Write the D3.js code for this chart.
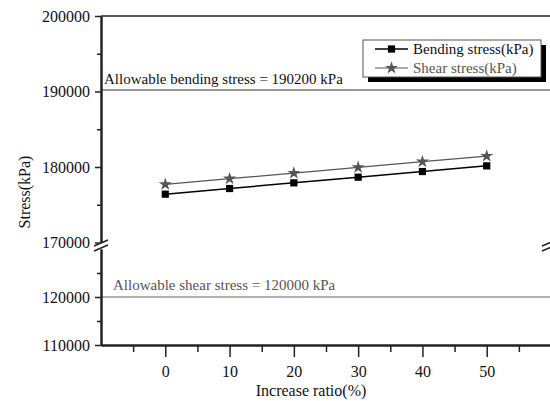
<!DOCTYPE html>
<html>
<head>
<meta charset="utf-8">
<script src="https://cdn.jsdelivr.net/npm/d3@7"></script>
<style>
  body { margin: 0; background: #fff; }
  svg { display: block; font-family: "Liberation Serif", "Times New Roman", serif; }
</style>
</head>
<body>
<svg id="chart" width="550" height="401"></svg>
<script>
// chart data
var ratios = [0, 10, 20, 30, 40, 50];
var bendingStress = [176400, 177150, 177900, 178650, 179400, 180150];
var shearStress = [177700, 178450, 179200, 179950, 180700, 181450];
var allowBending = 190200;
var allowShear = 120000;
var xTicks = [0, 10, 20, 30, 40, 50];
var xMinor = [-5, 5, 15, 25, 35, 45, 55];
var yUpperTicks = [170000, 180000, 190000, 200000];
var yUpperMinor = [175000, 185000, 195000];
var yLowerTicks = [110000, 120000];
var yLowerMinor = [115000, 125000];
var seriesNames = ["Bending stress(kPa)", "Shear stress(kPa)"];

var svg = d3.select("#chart");
var plotLeft = 101, plotRight = 551, plotBottom = 345, plotTop = 16;

var x = d3.scaleLinear().domain([-10, 60]).range([plotLeft, plotRight]);
// broken y axis: two pieces
var yUp = d3.scaleLinear().domain([170000, 200000]).range([242.5, plotTop]);
var yLow = d3.scaleLinear().domain([110000, 130000]).range([plotBottom, 249]);

var fmt = d3.format("d");

// reference lines
svg.append("line")
  .attr("x1", plotLeft).attr("x2", plotRight)
  .attr("y1", yUp(allowBending)).attr("y2", yUp(allowBending))
  .attr("stroke", "#333").attr("stroke-width", 1.2);
svg.append("text")
  .attr("x", 104).attr("y", yUp(allowBending) - 6)
  .attr("font-size", 15).attr("fill", "#111")
  .text("Allowable bending stress = " + allowBending + " kPa");

svg.append("line")
  .attr("x1", plotLeft).attr("x2", plotRight)
  .attr("y1", yLow(allowShear)).attr("y2", yLow(allowShear))
  .attr("stroke", "#666").attr("stroke-width", 1.2);
svg.append("text")
  .attr("x", 113).attr("y", yLow(allowShear) - 7)
  .attr("font-size", 15).attr("fill", "#555")
  .text("Allowable shear stress = " + allowShear + " kPa");

// top frame
svg.append("line")
  .attr("x1", plotLeft).attr("x2", plotRight).attr("y1", plotTop).attr("y2", plotTop)
  .attr("stroke", "#222").attr("stroke-width", 1.5);

// y axes
function styleAxis(g) {
  g.selectAll("path").attr("stroke", "#222").attr("stroke-width", 2);
  g.selectAll("line").attr("stroke", "#222").attr("stroke-width", 1.5);
  g.selectAll("text").attr("font-size", 16).attr("fill", "#111")
    .style("font-family", "Liberation Serif, serif");
}

svg.append("g").attr("transform", "translate(" + plotLeft + ",0)")
  .call(d3.axisLeft(yUp).tickValues(yUpperTicks).tickFormat(fmt).tickSize(6).tickSizeOuter(0).tickPadding(5))
  .call(styleAxis);
svg.append("g").attr("transform", "translate(" + plotLeft + ",0)")
  .call(d3.axisLeft(yUp).tickValues(yUpperMinor).tickFormat("").tickSize(4).tickSizeOuter(0))
  .call(styleAxis);
svg.append("g").attr("transform", "translate(" + plotLeft + ",0)")
  .call(d3.axisLeft(yLow).tickValues(yLowerTicks).tickFormat(fmt).tickSize(6).tickSizeOuter(0).tickPadding(5))
  .call(styleAxis);
svg.append("g").attr("transform", "translate(" + plotLeft + ",0)")
  .call(d3.axisLeft(yLow).tickValues(yLowerMinor).tickFormat("").tickSize(4).tickSizeOuter(0))
  .call(styleAxis);

// x axis
svg.append("g").attr("transform", "translate(0," + plotBottom + ")")
  .call(d3.axisBottom(x).tickValues(xTicks).tickFormat(fmt).tickSize(12).tickSizeOuter(0).tickPadding(9))
  .call(styleAxis);
svg.append("g").attr("transform", "translate(0," + plotBottom + ")")
  .call(d3.axisBottom(x).tickValues(xMinor).tickFormat("").tickSize(7).tickSizeOuter(0))
  .call(styleAxis);

// axis break marks (left and right)
[plotLeft, 549].forEach(function(bx) {
  var by = 245.5;
  svg.append("rect").attr("x", bx - 3).attr("y", by - 2.5).attr("width", 6).attr("height", 5).attr("fill", "#fff");
  [-2.5, 2.5].forEach(function(o) {
    svg.append("line")
      .attr("x1", bx - 7).attr("y1", by + o + 3)
      .attr("x2", bx + 7).attr("y2", by + o - 3)
      .attr("stroke", "#222").attr("stroke-width", 1.5);
  });
});

// axis titles
svg.append("text")
  .attr("x", 311).attr("y", 396)
  .attr("text-anchor", "middle").attr("font-size", 16).attr("fill", "#111")
  .text("Increase ratio(%)");
svg.append("text")
  .attr("transform", "translate(30,192) rotate(-90)")
  .attr("text-anchor", "middle").attr("font-size", 16).attr("fill", "#111")
  .text("Stress(kPa)");

// series
var line = d3.line().x(function(d) { return x(d[0]); }).y(function(d) { return yUp(d[1]); });
var bendPts = ratios.map(function(r, i) { return [r, bendingStress[i]]; });
var shearPts = ratios.map(function(r, i) { return [r, shearStress[i]]; });

var square = d3.symbol().type(d3.symbolSquare).size(52);
var star = d3.symbol().type(d3.symbolStar).size(52);

svg.append("path").datum(shearPts).attr("d", line)
  .attr("fill", "none").attr("stroke", "#555").attr("stroke-width", 1.2);
svg.selectAll(".star").data(shearPts).enter().append("path")
  .attr("class", "star")
  .attr("transform", function(d) { return "translate(" + x(d[0]) + "," + yUp(d[1]) + ")"; })
  .attr("d", star).attr("fill", "#555");

svg.append("path").datum(bendPts).attr("d", line)
  .attr("fill", "none").attr("stroke", "#000").attr("stroke-width", 1.5);
svg.selectAll(".sq").data(bendPts).enter().append("path")
  .attr("class", "sq")
  .attr("transform", function(d) { return "translate(" + x(d[0]) + "," + yUp(d[1]) + ")"; })
  .attr("d", square).attr("fill", "#000");

// legend with drop shadow
var lg = svg.append("g").attr("transform", "translate(363,40)");
lg.append("rect").attr("x", 5).attr("y", 5).attr("width", 178).attr("height", 37).attr("fill", "#000");
lg.append("rect").attr("x", 0).attr("y", 0).attr("width", 178).attr("height", 37)
  .attr("fill", "#fff").attr("stroke", "#555").attr("stroke-width", 1);
var legColors = ["#000", "#555"];
var legSyms = [square, star];
seriesNames.forEach(function(name, i) {
  var ly = 9 + i * 19;
  lg.append("line").attr("x1", 12).attr("x2", 45).attr("y1", ly).attr("y2", ly)
    .attr("stroke", legColors[i]).attr("stroke-width", i === 0 ? 1.5 : 1.2);
  lg.append("path").attr("transform", "translate(28.5," + ly + ")")
    .attr("d", legSyms[i]).attr("fill", legColors[i]);
  lg.append("text").attr("x", 50).attr("y", ly + 5)
    .attr("font-size", 15).attr("fill", legColors[i] === "#000" ? "#111" : "#555")
    .text(name);
});
</script>
</body>
</html>
